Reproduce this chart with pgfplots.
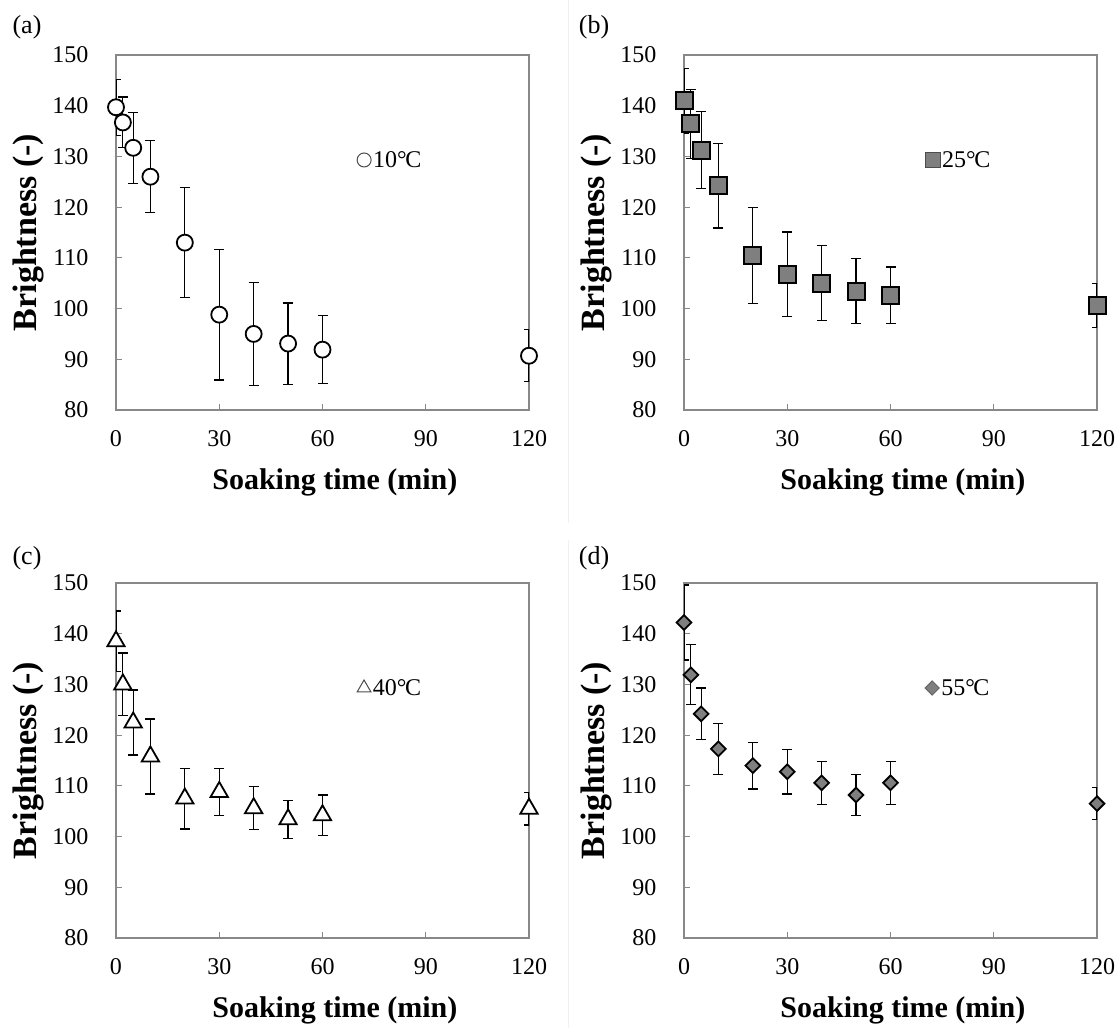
\documentclass[border=0pt]{standalone}
\usepackage{pgfplots}
\pgfplotsset{compat=1.18}
\usepackage{fontspec}
\setmainfont{Liberation Serif}
\newcommand{\degC}{\textdegree\kern-0.06em C}
\definecolor{axgray}{HTML}{888888}
\definecolor{mkgray}{HTML}{7F7F7F}
\pgfplotsset{
  panel/.style={
    width=413pt, height=355pt, scale only axis,
    xmin=0, xmax=120, ymin=80, ymax=150,
    xtick={0,30,60,90,120}, ytick={80,90,...,150},
    tick pos=left, tick align=inside,
    major tick length=6pt,
    every tick/.style={axgray, line width=1pt},
    axis line style={axgray, line width=1.3pt},
    /pgf/number format/assume math mode=true,
    ticklabel style={font=\fontsize{24}{26}\selectfont},
    yticklabel style={xshift=-24pt},
    xticklabel style={yshift=-17pt},
    xlabel={Soaking time (min)},
    ylabel={Brightness (-)},
    xlabel style={font=\bfseries\fontsize{30}{32}\selectfont, at={(axis description cs:0.53,0)}, anchor=center, yshift=-72pt},
    ylabel style={font=\bfseries\fontsize{34}{36}\selectfont, at={(axis description cs:0,0.5)}, anchor=center, yshift=88pt},
    legend style={draw=none, fill=none, inner sep=0pt, font=\fontsize{24}{26}\selectfont, anchor=west},
    legend image code/.code={\draw[#1] plot coordinates {(0pt,0pt)};},
  },
  ebar/.style={error bars/.cd, y dir=both, y explicit,
    error bar style={line width=1.2pt, black},
    error mark options={rotate=90, mark size=5pt, line width=1.2pt, black}},
}
\begin{document}
\begin{tikzpicture}[x=1pt,y=1pt]
\path[use as bounding box] (0,0) rectangle (1119,-1028);
\draw[black!6, line width=1pt] (568,0) -- (568,-523);
\draw[black!6, line width=1pt] (568,-540) -- (568,-1028);
\node[font=\fontsize{26}{28}\selectfont] at (27,-27) {(a)};
\node[font=\fontsize{26}{28}\selectfont] at (594,-27) {(b)};
\node[font=\fontsize{26}{28}\selectfont] at (27,-558) {(c)};
\node[font=\fontsize{26}{28}\selectfont] at (594,-558) {(d)};

% (a) 10 C
\begin{axis}[panel, at={(116pt,-410pt)}, anchor=south west,
  legend style={at={(axis cs:70,129.3)}}]
\addplot[forget plot, only marks, mark=*, mark size=8pt, mark options={fill=white, draw=black, line width=1.8pt}, ebar]
  table[x=x, y=y, y error=e] {
x y e
0 139.7 5.5
2 136.7 5.0
5 131.7 7.0
10 126.0 7.1
20 113.0 10.8
30 98.8 12.9
40 95.0 10.1
50 93.1 8.0
60 91.9 6.7
120 90.7 5.1
};
\addlegendimage{only marks, mark=*, mark size=7pt, mark options={fill=white, draw=black!70, line width=1pt}}
\addlegendentry{10\degC}
\end{axis}

% (b) 25 C
\begin{axis}[panel, at={(684pt,-410pt)}, anchor=south west,
  legend style={at={(axis cs:70,129.3)}}]
\addplot[forget plot, only marks, mark=square*, mark size=8.5pt, mark options={fill=mkgray, draw=black, line width=2pt}, ebar]
  table[x=x, y=y, y error=e] {
x y e
0 141.0 6.4
2 136.4 6.8
5 131.2 7.6
10 124.2 8.3
20 110.5 9.5
30 106.8 8.3
40 105.0 7.4
50 103.4 6.4
60 102.6 5.6
120 100.6 4.4
};
\addlegendimage{only marks, mark=square*, mark size=7.5pt, mark options={fill=mkgray, draw=black!70, line width=1pt}}
\addlegendentry{25\degC}
\end{axis}

% (c) 40 C
\begin{axis}[panel, at={(116pt,-938pt)}, anchor=south west,
  legend style={at={(axis cs:70,129.3)}}]
\addplot[forget plot, only marks, mark=triangle*, mark size=10pt, mark options={fill=white, draw=black, line width=1.8pt}, ebar]
  table[x=x, y=y, y error=e] {
x y e
0 138.5 6.0
2 130.0 6.2
5 122.5 6.4
10 115.8 7.4
20 107.5 6.0
30 108.8 4.7
40 105.6 4.2
50 103.4 3.7
60 104.2 4.0
120 105.5 3.2
};
\addlegendimage{only marks, mark=triangle*, mark size=8pt, mark options={fill=white, draw=black!70, line width=1pt}}
\addlegendentry{40\degC}
\end{axis}

% (d) 55 C
\begin{axis}[panel, at={(684pt,-938pt)}, anchor=south west,
  legend style={at={(axis cs:70,129.3)}}]
\addplot[forget plot, only marks, mark=square*, mark size=5.2pt, mark options={rotate=45, fill=mkgray, draw=black, line width=1.8pt}, ebar]
  table[x=x, y=y, y error=e] {
x y e
0 142.2 7.4
2 131.9 5.9
5 124.2 5.1
10 117.3 5.0
20 114.0 4.6
30 112.8 4.4
40 110.6 4.2
50 108.2 4.0
60 110.6 4.2
120 106.5 3.2
};
\addlegendimage{only marks, mark=square*, mark size=5pt, mark options={rotate=45, fill=mkgray, draw=black!60, line width=1pt}}
\addlegendentry{55\degC}
\end{axis}
\end{tikzpicture}
\end{document}
